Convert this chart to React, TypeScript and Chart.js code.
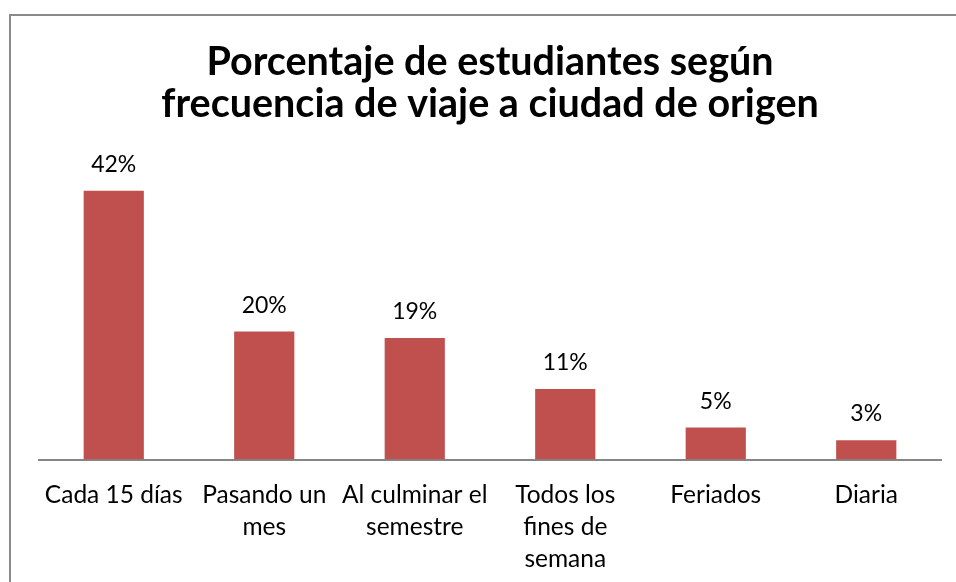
import React, { useEffect, useRef } from "react";
import { Chart, registerables } from "chart.js";

Chart.register(...registerables);

const categories: string[][] = [
  ["Cada 15 días"],
  ["Pasando un", "mes"],
  ["Al culminar el", "semestre"],
  ["Todos los", "fines de", "semana"],
  ["Feriados"],
  ["Diaria"],
];
const percentages: number[] = [42, 20, 19, 11, 5, 3];
const titleLines: string[] = [
  "Porcentaje de estudiantes según",
  "frecuencia de viaje a ciudad de origen",
];

const FONT = "Lato, 'Open Sans', sans-serif";

const dataLabels = {
  id: "dataLabels",
  afterDatasetsDraw(chart: any) {
    const ctx = chart.ctx;
    const meta = chart.getDatasetMeta(0);
    ctx.save();
    ctx.fillStyle = "#000000";
    ctx.font = `23px ${FONT}`;
    ctx.textAlign = "center";
    ctx.textBaseline = "alphabetic";
    meta.data.forEach((bar: any, i: number) => {
      ctx.fillText(`${percentages[i]}%`, bar.x, bar.y - 19);
    });
    ctx.restore();
  },
};

export default function App() {
  const ref = useRef<HTMLCanvasElement | null>(null);
  useEffect(() => {
    if (!ref.current) return;
    const chart = new Chart(ref.current, {
      type: "bar",
      data: {
        labels: categories,
        datasets: [
          {
            data: percentages,
            backgroundColor: "#C0504D",
            borderWidth: 0,
            categoryPercentage: 1,
            barPercentage: 0.4,
          },
        ],
      },
      options: {
        responsive: false,
        animation: false,
        layout: { padding: { left: 38.5, right: 14.5, top: 0, bottom: 0 } },
        plugins: {
          legend: { display: false },
          tooltip: { enabled: false },
          title: {
            display: true,
            text: titleLines,
            color: "#000000",
            font: { family: FONT, size: 39.5, weight: "bold", lineHeight: 1.07 },
            padding: { top: 41, bottom: 46 },
          },
        },
        scales: {
          x: {
            grid: { display: false },
            border: { display: true, color: "#868686", width: 2 },
            ticks: {
              color: "#000000",
              font: { family: FONT, size: 24.5, lineHeight: 1.3 },
              padding: 12,
              maxRotation: 0,
              autoSkip: false,
            },
            afterFit(scale: any) {
              scale.height = 122.5;
            },
          },
          y: {
            display: false,
            min: 0,
            max: 45,
          },
        },
      },
      plugins: [dataLabels],
    });
    return () => chart.destroy();
  }, []);

  return (
    <div
      style={{
        position: "fixed",
        left: 0,
        top: 0,
        width: 956,
        height: 582,
        overflow: "hidden",
        background: "#ffffff",
      }}
    >
      <div
        style={{
          position: "absolute",
          left: 9,
          top: 14,
          width: 1000,
          height: 700,
          borderTop: "2px solid #8a8a8a",
          borderLeft: "2px solid #8a8a8a",
        }}
      />
      <canvas
        ref={ref}
        width={956}
        height={582}
        style={{ position: "absolute", left: 0, top: 0, width: 956, height: 582 }}
      />
    </div>
  );
}
